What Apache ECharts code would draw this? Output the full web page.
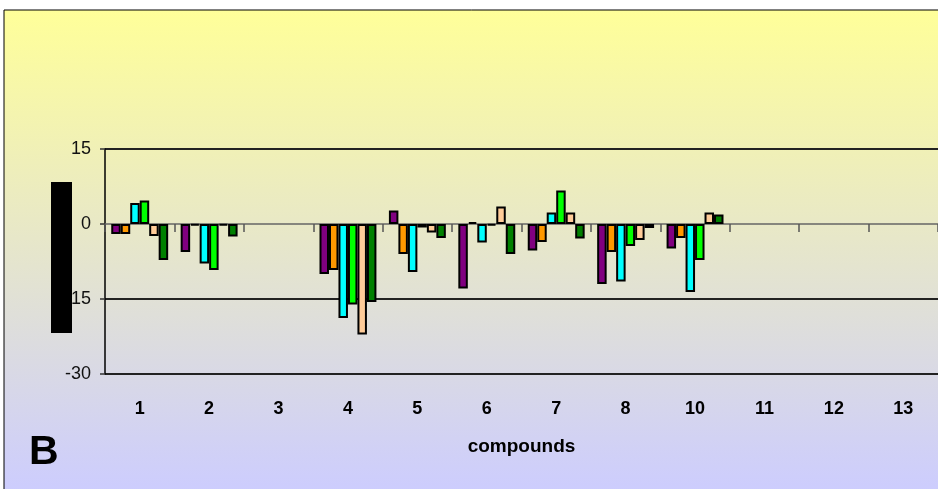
<!DOCTYPE html>
<html>
<head>
<meta charset="utf-8">
<script src="https://cdn.jsdelivr.net/npm/echarts@6/dist/echarts.min.js"></script>
<style>
  html, body { margin: 0; padding: 0; background: #ffffff; }
  #chart { width: 938px; height: 489px; }
</style>
</head>
<body>
<div id="chart"></div>
<script>
// Compound labels along the category axis
const categories = ['1', '2', '3', '4', '5', '6', '7', '8', '10', '11', '12', '13'];

// Six measurement series per compound (null = not measured)
const seriesA = [-2.0, -5.6, null, -10.0,  2.7, -12.9, -5.3, -12.0,  -4.9, null, null, null];
const seriesB = [-2.0, -0.3, null,  -9.2, -6.0,   0.4, -3.6,  -5.6,  -2.8, null, null, null];
const seriesC = [ 4.2, -7.9, null, -18.8, -9.6,  -3.7,  2.3, -11.5, -13.6, null, null, null];
const seriesD = [ 4.7, -9.2, null, -16.1, -0.7,  -0.3,  6.7,  -4.4,  -7.2, null, null, null];
const seriesE = [-2.4, -0.3, null, -22.1, -1.7,   3.5,  2.3,  -3.2,   2.3, null, null, null];
const seriesF = [-7.2, -2.5, null, -15.6, -2.8,  -6.0, -2.9,  -0.8,   1.9, null, null, null];

// Value axis ticks
const yTicks = [-30, -15, 0, 15];

const seriesValues = [seriesA, seriesB, seriesC, seriesD, seriesE, seriesF];
const seriesColors = ['#800080', '#FF9900', '#00FFFF', '#00FF00', '#FFCC99', '#008000'];

const chart = echarts.init(document.getElementById('chart'), null, { renderer: 'canvas' });

const font = '"Liberation Sans", Arial, sans-serif';

const option = {
  animation: false,
  backgroundColor: '#ffffff',
  textStyle: { fontFamily: font },
  grid: { left: 105, top: 149, right: -5, bottom: 115, containLabel: false },
  graphic: [
    {
      type: 'rect',
      z: -10,
      shape: { x: 4, y: 10, width: 940, height: 485 },
      style: {
        fill: {
          type: 'linear', x: 0, y: 0, x2: 0, y2: 1,
          colorStops: [
            { offset: 0, color: '#FFFF99' },
            { offset: 1, color: '#CCCCFF' }
          ]
        },
        stroke: '#000000',
        lineWidth: 1
      }
    },
    {
      type: 'rect',
      z: 100,
      shape: { x: 51, y: 182, width: 21, height: 151 },
      style: { fill: '#000000' }
    },
    {
      type: 'text',
      z: 100,
      style: {
        x: 29, y: 453,
        text: 'B',
        fontFamily: font,
        fontSize: 41,
        fontWeight: 'bold',
        fill: '#000000',
        verticalAlign: 'middle'
      }
    }
  ],
  xAxis: [
    {
      type: 'category',
      data: categories,
      position: 'bottom',
      axisLine: { onZero: true, lineStyle: { color: '#666666', width: 1.5 } },
      axisTick: { show: true, alignWithLabel: false, length: 8, lineStyle: { color: '#555555', width: 1.5 } },
      axisLabel: { show: false },
      splitLine: { show: false }
    },
    {
      type: 'category',
      data: categories,
      position: 'bottom',
      axisLine: { show: false, onZero: false },
      axisTick: { show: false },
      axisLabel: {
        show: true, margin: 26, color: '#000000',
        fontSize: 18, fontWeight: 'bold', fontFamily: font
      },
      name: 'compounds',
      nameLocation: 'middle',
      nameGap: 63,
      nameTextStyle: { color: '#000000', fontSize: 19, fontWeight: 'bold', fontFamily: font },
      splitLine: { show: false }
    }
  ],
  yAxis: {
    type: 'value',
    min: yTicks[0],
    max: yTicks[yTicks.length - 1],
    interval: 15,
    axisLine: { show: true, lineStyle: { color: '#000000', width: 1.5 } },
    axisTick: { show: true, length: 5, lineStyle: { color: '#333333', width: 1.5 } },
    axisLabel: { margin: 14, color: '#111111', fontSize: 18, fontFamily: font },
    splitLine: {
      show: true,
      lineStyle: { color: ['#222222', '#222222', 'rgba(0,0,0,0)', '#222222'], width: 2 }
    }
  },
  series: seriesValues.map((vals, i) => ({
    type: 'bar',
    xAxisIndex: 0,
    data: vals,
    barGap: '0%',
    barCategoryGap: '18%',
    itemStyle: { color: seriesColors[i], borderColor: '#000000', borderWidth: 2 }
  }))
};

chart.setOption(option);
</script>
</body>
</html>
